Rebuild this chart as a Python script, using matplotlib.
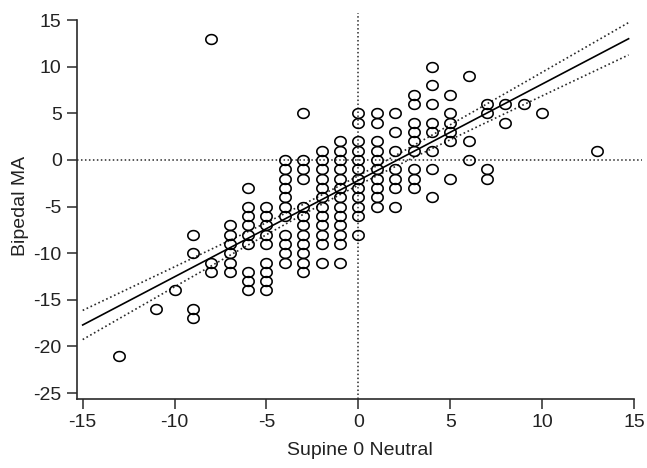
import numpy as np
import matplotlib
matplotlib.use('Agg')
import matplotlib.pyplot as plt
from matplotlib.path import Path

plt.rcParams['font.family'] = ['Liberation Sans', 'DejaVu Sans']
plt.rcParams['axes.unicode_minus'] = False

# === DATA (x value -> list of y values) ===
x_vals = [-13, -11, -10, -9, -8, -7, -6, -5, -4, -3, -2, -1, 0,
          1, 2, 3, 4, 5, 6, 7, 8, 9, 10, 13]
y_lists = [
    [-21],
    [-16],
    [-14],
    [-8, -10, -16, -17],
    [13, -11, -12],
    [-7, -8, -9, -10, -11, -12],
    [-3, -5, -6, -7, -8, -9, -12, -13, -14],
    [-5, -6, -7, -8, -9, -11, -12, -13, -14],
    [0, -1, -2, -3, -4, -5, -6, -8, -9, -10, -11],
    [5, 0, -1, -2, -5, -6, -7, -8, -9, -10, -11, -12],
    [1, 0, -1, -2, -3, -4, -5, -6, -7, -8, -9, -11],
    [2, 1, 0, -1, -2, -3, -4, -5, -6, -7, -8, -9, -11],
    [5, 4, 2, 1, 0, -1, -2, -3, -4, -5, -6, -8],
    [5, 4, 2, 1, 0, -1, -2, -3, -4, -5],
    [5, 3, 1, -1, -2, -3, -5],
    [7, 6, 4, 3, 2, 1, -1, -2, -3],
    [10, 8, 6, 4, 3, 1, -1, -4],
    [7, 5, 4, 3, 2, -2],
    [9, 2, 0],
    [6, 5, -1, -2],
    [6, 4],
    [6],
    [5],
    [1],
]

# regression line and its band, read at the ends of the drawn range
line_x = [-15, 14.7]
fit_y = [-17.7, 13.0]
upper_y = [-16.1, 14.6]
lower_y = [-19.2, 11.1]

xs = np.concatenate([[x] * len(ys) for x, ys in zip(x_vals, y_lists)])
ys = np.concatenate(y_lists)

# === PLOT ===
fig = plt.figure(figsize=(6.47, 4.68), dpi=100)
ax = fig.add_axes([0.119, 0.1474, 0.873, 0.8246])

ink = '#2a2a2a'
dots = (0, (1, 1.6))

ax.axhline(0, color=ink, lw=1.1, ls=dots, zorder=1)
ax.axvline(0, color=ink, lw=1.1, ls=dots, zorder=1)

# band: confidence-band shape from the points, scaled to the read end widths
xx = np.linspace(line_x[0], line_x[1], 200)
slope = (fit_y[1] - fit_y[0]) / (line_x[1] - line_x[0])
yy = fit_y[0] + slope * (xx - line_x[0])
x_mean = xs.mean()
sxx = ((xs - x_mean) ** 2).sum()
shape = np.sqrt(1 / len(xs) + (xx - x_mean) ** 2 / sxx)
end_hw = (np.array(upper_y) - np.array(lower_y)) / 2
scale = np.mean(end_hw / shape[[0, -1]])
hw = scale * shape

ax.plot(xx, yy, color='black', lw=1.2, zorder=2)
ax.plot(xx, yy + hw, color=ink, lw=1.2, ls=dots, zorder=2)
ax.plot(xx, yy - hw, color=ink, lw=1.2, ls=dots, zorder=2)

t = np.linspace(0, 2 * np.pi, 41)
ellipse = Path(np.column_stack([np.cos(t), 0.86 * np.sin(t)]))
ax.plot(xs, ys, ls='none', marker=ellipse, mfc='none', mec='black',
        mew=1.15, ms=8.2, zorder=3)

ax.set_xlim(-15.31, 15.42)
ax.set_ylim(-25.64, 15.75)
ax.set_xticks([-15, -10, -5, 0, 5, 10, 15])
ax.set_yticks([-25, -20, -15, -10, -5, 0, 5, 10, 15])

for side in ['top', 'right']:
    ax.spines[side].set_visible(False)
for side in ['left', 'bottom']:
    ax.spines[side].set_color(ink)
    ax.spines[side].set_linewidth(1.2)
ax.spines['left'].set_bounds(-25.64, 15)
ax.spines['bottom'].set_bounds(-15.31, 15)

ax.tick_params(direction='out', length=7, width=1.1, color=ink,
               labelsize=14, labelcolor='#222222', pad=4)
ax.set_xlabel('Supine 0 Neutral', fontsize=14, color='#222222', labelpad=8)
ax.set_ylabel('Bipedal MA', fontsize=14, color='#222222', labelpad=3)

fig.savefig('out.png', dpi=100)
